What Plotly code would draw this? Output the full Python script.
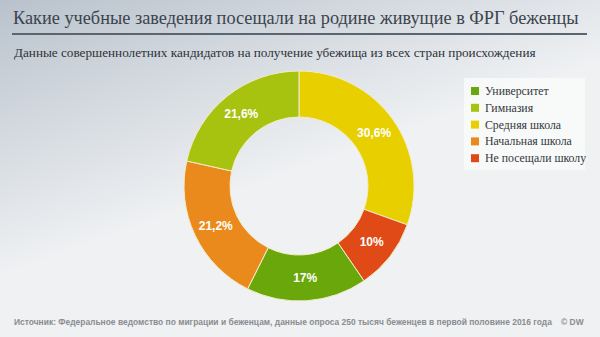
import plotly.graph_objects as go

# ---- data ----
slice_labels = ["Средняя школа", "Не посещали школу", "Университет", "Начальная школа", "Гимназия"]
slice_values = [30.6, 10.0, 17.0, 21.2, 21.6]
slice_texts = ["30,6%", "10%", "17%", "21,2%", "21,6%"]
slice_colors = ["#e8cf00", "#df4a16", "#6aa70a", "#eb8a1c", "#a8c30f"]

legend_labels = ["Университет", "Гимназия", "Средняя школа", "Начальная школа", "Не посещали школу"]

title_text = "Какие учебные заведения посещали на родине живущие в ФРГ беженцы"
subtitle_text = "Данные совершеннолетних кандидатов на получение убежища из всех стран происхождения"
source_text = "Источник: Федеральное ведомство по миграции и беженцам, данные опроса 250 тысяч беженцев в первой половине 2016 года"
credit_text = "© DW"

W, H = 600, 337
SERIF = "Liberation Serif, Times New Roman, DejaVu Serif, serif"
SANS = "Liberation Sans, Arial, sans-serif"
color_of = dict(zip(slice_labels, slice_colors))

bg_svg = (
    "data:image/svg+xml;utf8,"
    "<svg xmlns='http://www.w3.org/2000/svg' width='600' height='337'>"
    "<defs><linearGradient id='g' gradientUnits='userSpaceOnUse' x1='0' y1='0' x2='88' y2='246'>"
    "<stop offset='0' stop-color='%23b9c2cc'/><stop offset='1' stop-color='%23eff1f3'/>"
    "</linearGradient></defs><rect width='600' height='337' fill='url(%23g)'/></svg>"
)

fig = go.Figure()
fig.add_trace(go.Pie(
    labels=slice_labels,
    values=slice_values,
    text=slice_texts,
    texttemplate="<b>%{text}</b>",
    textposition="inside",
    insidetextorientation="horizontal",
    textfont=dict(family=SANS, size=12, color="white"),
    hole=0.6,
    sort=False,
    direction="clockwise",
    rotation=0,
    marker=dict(colors=slice_colors, line=dict(color="#f3ecc8", width=1)),
    domain=dict(x=[183 / W, 415 / W], y=[1 - 301 / H, 1 - 71 / H]),
    showlegend=False,
    hoverinfo="label+text",
))

def px(x):
    return x / W

def py(y):
    return 1 - y / H

shapes = [
    dict(type="line", xref="paper", yref="paper", x0=px(12), x1=px(587), y0=py(34), y1=py(34),
         line=dict(color="#5b6570", width=2)),
    dict(type="rect", xref="paper", yref="paper", x0=px(464), x1=px(585), y0=py(78), y1=py(170),
         fillcolor="rgba(248,249,250,0.9)", line=dict(width=0), layer="below"),
]
annotations = [
    dict(text=title_text, xref="paper", yref="paper", x=px(11), y=py(18), xanchor="left", yanchor="middle",
         showarrow=False, font=dict(family=SERIF, size=18.3, color="#3b444e")),
    dict(text=subtitle_text, xref="paper", yref="paper", x=px(12), y=py(52), xanchor="left", yanchor="middle",
         showarrow=False, font=dict(family=SERIF, size=13.2, color="#2e3238")),
    dict(text="<b>" + source_text + "</b>", xref="paper", yref="paper", x=px(12), y=py(322), xanchor="left",
         yanchor="middle", showarrow=False, font=dict(family=SANS, size=8.45, color="#8a8d90")),
    dict(text="<b>" + credit_text + "</b>", xref="paper", yref="paper", x=px(586), y=py(322), xanchor="right",
         yanchor="middle", showarrow=False, font=dict(family=SANS, size=8.45, color="#8a8d90")),
]
for i, lab in enumerate(legend_labels):
    yc = 91 + i * 16.8
    shapes.append(dict(type="rect", xref="paper", yref="paper", x0=px(471), x1=px(479),
                       y0=py(yc + 4), y1=py(yc - 4), fillcolor=color_of[lab], line=dict(width=0)))
    annotations.append(dict(text=lab, xref="paper", yref="paper", x=px(483), y=py(yc), xanchor="left",
                            yanchor="middle", showarrow=False,
                            font=dict(family=SERIF, size=11.8, color="#33373c")))

fig.update_layout(
    width=W, height=H,
    margin=dict(l=0, r=0, t=0, b=0),
    paper_bgcolor="#e6eaee",
    plot_bgcolor="rgba(0,0,0,0)",
    shapes=shapes,
    annotations=annotations,
    images=[dict(source=bg_svg, xref="paper", yref="paper", x=0, y=1, sizex=1, sizey=1,
                 xanchor="left", yanchor="top", sizing="stretch", layer="below")],
)

fig.write_html("out.html")
